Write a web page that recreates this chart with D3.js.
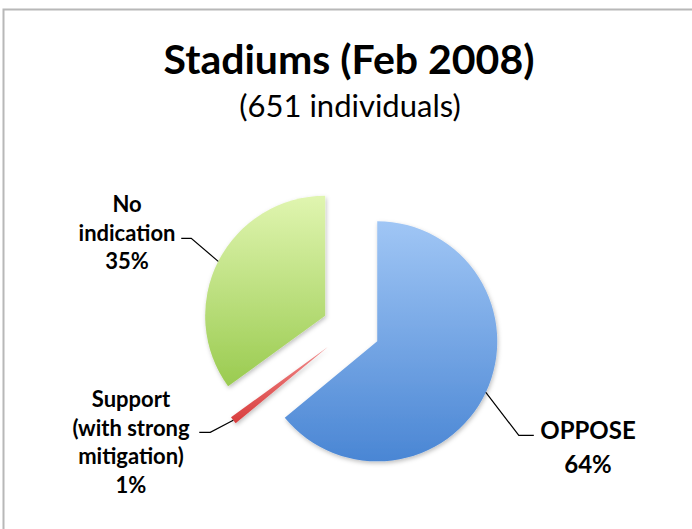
<!DOCTYPE html>
<html>
<head>
<meta charset="utf-8">
<script src="https://cdn.jsdelivr.net/npm/d3@7"></script>
<style>
  body { margin: 0; background: #fff; }
  svg { display: block; }
  text { font-family: Lato, "Open Sans", sans-serif; fill: #000; }
</style>
</head>
<body>
<svg id="chart"></svg>
<script>
// pie data
var categories = ['OPPOSE', 'Support (with strong mitigation)', 'No indication'];
var values = [64, 1, 35];
var pctLabels = ['64%', '1%', '35%'];

var svgW = 692;
var svgH = 529;

var svg = d3.select('#chart').attr('width', svgW).attr('height', svgH);

// chart frame (only top + left visible)
svg.append('rect')
  .attr('x', 3.5).attr('y', 9.5)
  .attr('width', 720).attr('height', 560)
  .attr('fill', 'none')
  .attr('stroke', '#b8b8b8')
  .attr('stroke-width', 2);

svg.append('text')
  .attr('x', 349).attr('y', 74)
  .attr('text-anchor', 'middle')
  .style('font-size', '41px').style('font-weight', 'bold')
  .text('Stadiums (Feb 2008)');

svg.append('text')
  .attr('x', 350).attr('y', 117)
  .attr('text-anchor', 'middle')
  .style('font-size', '31px')
  .text('(651 individuals)');

var defs = svg.append('defs');
var grads = [['#a0c6f5', '#4a86d4'], ['#f08a8a', '#d83c3c'], ['#e0f5b0', '#9acb50']];
grads.forEach(function(g, i) {
  var lg = defs.append('linearGradient').attr('id', 'g' + i)
    .attr('x1', 0).attr('y1', 0).attr('x2', 0).attr('y2', 1);
  lg.append('stop').attr('offset', '0%').attr('stop-color', g[0]);
  lg.append('stop').attr('offset', '100%').attr('stop-color', g[1]);
});
defs.append('filter').attr('id', 'shadow')
  .attr('x', '-20%').attr('y', '-20%').attr('width', '140%').attr('height', '140%')
  .append('feDropShadow')
  .attr('dx', 1).attr('dy', 2).attr('stdDeviation', 2)
  .attr('flood-color', '#000').attr('flood-opacity', 0.25);

var cx = 351, cy = 329;
var r = 120;
var explode = 29;

var pie = d3.pie().sort(null).value(function(d) { return d; });
var arcs = pie(values);
var arc = d3.arc().innerRadius(0).outerRadius(r);

function dir(a) { return [Math.sin(a), -Math.cos(a)]; }

var g = svg.append('g').attr('transform', 'translate(' + cx + ',' + cy + ')');

g.selectAll('path.slice').data(arcs).enter().append('path')
  .attr('class', 'slice')
  .attr('d', arc)
  .attr('fill', function(d, i) { return 'url(#g' + i + ')'; })
  .attr('filter', 'url(#shadow)')
  .attr('transform', function(d) {
    var m = dir((d.startAngle + d.endAngle) / 2);
    return 'translate(' + (m[0] * explode) + ',' + (m[1] * explode) + ')';
  });

// leader lines: start at outer edge mid-angle, elbow, end near label
var elbows = [[[33, 43], [48, 43]], [[-23, 12], [-34, 12]], [[-27, -23], [-37, -23]]];
g.selectAll('path.leader').data(arcs).enter().append('path')
  .attr('class', 'leader')
  .attr('fill', 'none').attr('stroke', '#000').attr('stroke-width', 1.2)
  .attr('d', function(d, i) {
    var m = dir((d.startAngle + d.endAngle) / 2);
    var p = [m[0] * (r + explode), m[1] * (r + explode)];
    var e = elbows[i];
    return 'M' + p + 'L' + [p[0] + e[0][0], p[1] + e[0][1]] + 'L' + [p[0] + e[1][0], p[1] + e[1][1]];
  });

// labels
var labelLines = [
  ['OPPOSE', pctLabels[0]],
  ['Support', '(with strong', 'mitigation)', pctLabels[1]],
  ['No', 'indication', pctLabels[2]]
];
var labelPos = [[588, 439, 34, 24], [131, 407, 28.5, 22], [127, 212, 28.5, 22]];

labelLines.forEach(function(lines, i) {
  var p = labelPos[i];
  var t = svg.append('text')
    .attr('text-anchor', 'middle')
    .style('font-size', p[3] + 'px').style('font-weight', 'bold');
  t.selectAll('tspan').data(lines).enter().append('tspan')
    .attr('x', p[0])
    .attr('y', function(d, j) { return p[1] + j * p[2]; })
    .text(function(d) { return d; });
});
</script>
</body>
</html>
